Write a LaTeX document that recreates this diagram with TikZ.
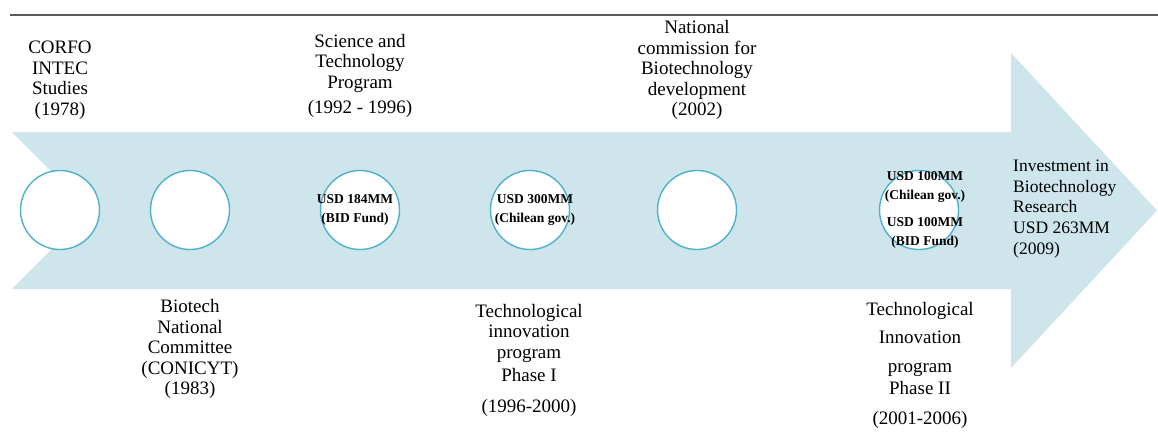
\documentclass[tikz,border=0pt]{standalone}
\usepackage{fontspec}
\setmainfont{Liberation Serif}

\begin{document}
\begin{tikzpicture}[x=1pt,y=-1pt]
 \definecolor{bandblue}{RGB}{206,229,235}
 \definecolor{rimblue}{RGB}{77,178,202}
 \definecolor{rulegray}{RGB}{90,90,90}
 \tikzset{
   milestone/.style={circle,draw=rimblue,line width=1.4pt,fill=white,
     minimum size=79pt,inner sep=0pt},
   era/.style={align=center,inner sep=0pt,
     font=\fontsize{19}{20.5}\selectfont},
   fund/.style={align=center,inner sep=0pt,
     font=\bfseries\fontsize{13.5}{18.5}\selectfont}
 }
 \useasboundingbox (0,0) rectangle (1158,437);
 % rule above, then the arrow band with its notched tail
 \draw[rulegray,line width=1.5pt] (10,15) -- (1158,15);
 \fill[bandblue]
   (12,132) -- (1011,132) -- (1011,53) -- (1157,210.5)
   -- (1011,368) -- (1011,289) -- (12,289) -- (90,210.5) -- cycle;
 \foreach \nm/\xp in {
   c1/60, c2/190, c3/360,
   c4/530, c5/697, c6/919
 } {
   \node[milestone] (\nm) at (\xp,210) {};
 }
 % amounts inside the circles
 \node[fund] (f3) at ([xshift=-5pt]c3) {USD 184MM\\(BID Fund)};
 \node[fund] (f4) at ([xshift=5pt]c4) {USD 300MM\\(Chilean gov.)};
 \node[fund] (f6) at ([xshift=6pt]c6)
   {USD 100MM\\(Chilean gov.)\\[9pt]USD 100MM\\(BID Fund)};
 % events above the band
 \node[era] (corfo) at (60,80) {CORFO\\INTEC\\Studies\\(1978)};
 \node[era] (scitech) at (360,76)
   {Science and\\Technology\\Program\\[5pt](1992 - 1996)};
 \node[era] (biocom) at (697,70)
   {National\\commission for\\Biotechnology\\development\\(2002)};
 % events below the band
 \node[era] (conicyt) at (190,349)
   {Biotech\\National\\Committee\\(CONICYT)\\(1983)};
 \node[era] (phase1) at (529,360)
   {Technological\\innovation\\program\\[3pt]Phase I\\[10pt](1996-2000)};
 \node[era] (phase2) at (920,365)
   {Technological\\[8pt]Innovation\\[8pt]program\\[2pt]Phase II\\[9pt](2001-2006)};
 % arrow head
 \node[era,align=left,anchor=west,font=\fontsize{17.5}{20.8}\selectfont]
   (invest) at (1013,209)
   {Investment in\\Biotechnology\\Research\\USD 263MM\\(2009)};
\end{tikzpicture}
\end{document}
